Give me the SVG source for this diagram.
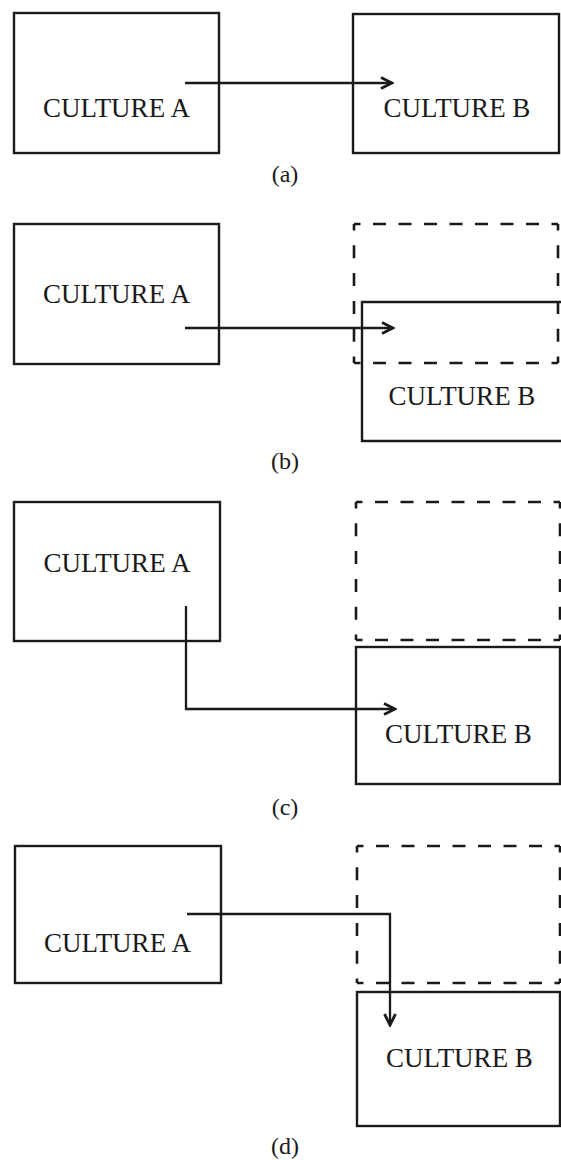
<svg xmlns="http://www.w3.org/2000/svg" width="561" height="1160" viewBox="0 0 561 1160">
<style>
.box{fill:none;stroke:#1a1a1a;stroke-width:2.4}
.dh{stroke:#1a1a1a;stroke-width:2.6;stroke-dasharray:13 12.5;stroke-dashoffset:6.5}
.dv{stroke:#1a1a1a;stroke-width:2.6;stroke-dasharray:13 14.8;stroke-dashoffset:6.5}
.lbl{font-family:"Liberation Serif",serif;font-size:27px;fill:#1a1a1a;text-anchor:middle}
.cap{font-family:"Liberation Serif",serif;font-size:24px;fill:#1a1a1a;text-anchor:middle}
.conn{fill:none;stroke:#1a1a1a;stroke-width:2.3;marker-end:url(#ah)}
</style>
<defs>
<marker id="ah" markerUnits="userSpaceOnUse" viewBox="-13 -8 15 16" markerWidth="15" markerHeight="16" refX="0" refY="0" orient="auto">
<path d="M-11,-5.5 L0,0 L-11,5.5" fill="none" stroke="#1a1a1a" stroke-width="2.8"/>
</marker>
</defs>
<rect width="561" height="1160" fill="#ffffff"/>

<!-- Panel a -->
<g id="a-cultureA">
<rect class="box" x="14" y="13" width="205" height="140"/>
<text class="lbl" x="116.5" y="117">CULTURE A</text>
</g>
<g id="a-cultureB">
<rect class="box" x="353" y="14" width="206" height="139"/>
<text class="lbl" x="457" y="117">CULTURE B</text>
</g>
<text class="cap" x="285" y="182">(a)</text>

<!-- Panel b -->
<g id="b-cultureA">
<rect class="box" x="14" y="224" width="205" height="140"/>
<text class="lbl" x="116.5" y="303">CULTURE A</text>
</g>
<g id="b-former">
<line class="dh" x1="354" y1="224" x2="558" y2="224"/>
<line class="dh" x1="354" y1="363" x2="558" y2="363"/>
<line class="dv" x1="354" y1="224" x2="354" y2="363"/>
<line class="dv" x1="558" y1="224" x2="558" y2="363"/>
</g>
<g id="b-cultureB">
<path class="box" d="M561,302 H362 V441 H561"/>
<text class="lbl" x="462" y="405">CULTURE B</text>
</g>
<text class="cap" x="285" y="469">(b)</text>

<!-- Panel c -->
<g id="c-cultureA">
<rect class="box" x="14" y="502" width="206" height="139"/>
<text class="lbl" x="117" y="572">CULTURE A</text>
</g>
<g id="c-former">
<line class="dh" x1="356" y1="502" x2="560" y2="502"/>
<line class="dh" x1="356" y1="640" x2="560" y2="640"/>
<line class="dv" x1="356" y1="502" x2="356" y2="640"/>
<line class="dv" x1="560" y1="502" x2="560" y2="640"/>
</g>
<g id="c-cultureB">
<rect class="box" x="356" y="647" width="204" height="137"/>
<text class="lbl" x="458.5" y="743">CULTURE B</text>
</g>
<text class="cap" x="285" y="815">(c)</text>

<!-- Panel d -->
<g id="d-cultureA">
<rect class="box" x="15" y="846" width="206" height="137"/>
<text class="lbl" x="117.5" y="952">CULTURE A</text>
</g>
<g id="d-former">
<line class="dh" x1="357" y1="846" x2="560" y2="846"/>
<line class="dh" x1="357" y1="983" x2="560" y2="983"/>
<line class="dv" x1="357" y1="846" x2="357" y2="983"/>
<line class="dv" x1="560" y1="846" x2="560" y2="983"/>
</g>
<g id="d-cultureB">
<rect class="box" x="357" y="992" width="203" height="134"/>
<text class="lbl" x="459.5" y="1067">CULTURE B</text>
</g>
<text class="cap" x="285" y="1154">(d)</text>

<g id="connectors">
<path class="conn" d="M185,83 H392"/>
<path class="conn" d="M185,328 H393"/>
<path class="conn" d="M186,606 V709 H395"/>
<path class="conn" d="M187,914 H390 V1025"/>
</g>
</svg>
